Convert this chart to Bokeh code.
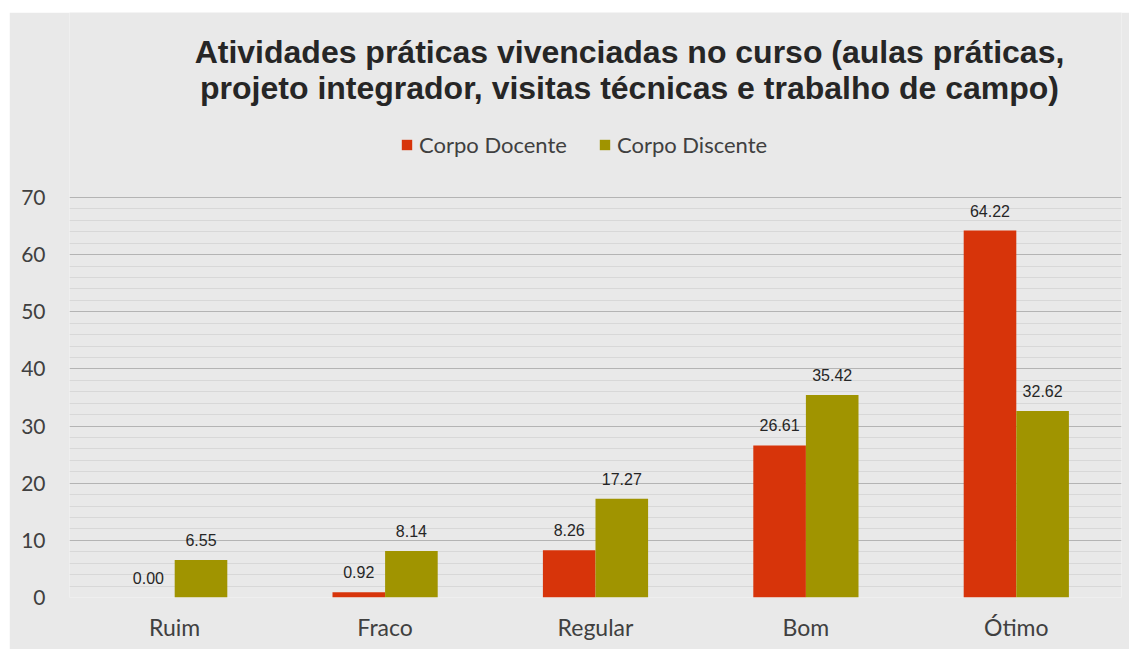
from bokeh.plotting import figure
from bokeh.models import (ColumnDataSource, FactorRange, Range1d, LabelSet, Label,
                          Legend, LegendItem, FixedTicker)
from bokeh.core.properties import value
from bokeh.transform import dodge
from bokeh.embed import file_html
from bokeh.resources import INLINE

categories = ["Ruim", "Fraco", "Regular", "Bom", "Ótimo"]
docente = [0.00, 0.92, 8.26, 26.61, 64.22]
discente = [6.55, 8.14, 17.27, 35.42, 32.62]
series_names = ["Corpo Docente", "Corpo Discente"]
y_ticks = [0, 10, 20, 30, 40, 50, 60, 70]
y_minor = [v for v in range(2, 70, 2) if v % 10 != 0]
title_lines = ["Atividades práticas vivenciadas no curso (aulas práticas,",
               "projeto integrador, visitas técnicas e trabalho de campo)"]

RED = "#d7340a"
OLIVE = "#a09400"
BG = "#e9e9e9"
TXT = "#404040"

src = ColumnDataSource(dict(
    cat=categories, doc=docente, dis=discente,
    doc_lbl=[f"{v:.2f}" for v in docente],
    dis_lbl=[f"{v:.2f}" for v in discente],
))

FRAME_H = 585
Y_TOP = 70 * FRAME_H / 400.0

p = figure(x_range=FactorRange(*categories), y_range=Range1d(0, Y_TOP),
           width=1120, height=637, margin=(12, 0, 0, 9), title=None,
           output_backend="svg", toolbar_location=None,
           min_border_left=60, min_border_right=8, min_border_top=0,
           min_border_bottom=52)
p.background_fill_color = BG
p.border_fill_color = BG
p.outline_line_color = None
p.x_range.range_padding = 0

r1 = p.vbar(x=dodge("cat", -0.125, range=p.x_range), top="doc", width=0.25,
            source=src, color=RED, line_color=None)
r2 = p.vbar(x=dodge("cat", 0.125, range=p.x_range), top="dis", width=0.25,
            source=src, color=OLIVE, line_color=None)

for col, off, ycol in (("doc_lbl", -0.125, "doc"), ("dis_lbl", 0.125, "dis")):
    p.add_layout(LabelSet(x=dodge("cat", off, range=p.x_range), y=ycol, text=col,
                          source=src, text_align="center", text_baseline="middle",
                          y_offset=20, text_font=value("Arial"),
                          text_font_size=value("16px"), text_color="#262626"))

# axes
p.yaxis.ticker = FixedTicker(ticks=y_ticks, minor_ticks=y_minor)
p.yaxis.axis_line_color = None
p.yaxis.major_tick_line_color = None
p.yaxis.minor_tick_line_color = None
p.yaxis.major_label_standoff = 18
p.yaxis.major_label_text_font = "Lato"
p.yaxis.major_label_text_font_size = "21px"
p.yaxis.major_label_text_color = TXT

p.xaxis.axis_line_color = None
p.xaxis.major_tick_line_color = None
p.xaxis.minor_tick_line_color = None
p.xaxis.major_label_standoff = 9
p.xaxis.major_label_text_font = "Lato"
p.xaxis.major_label_text_font_size = "23px"
p.xaxis.major_label_text_color = TXT

p.xgrid.grid_line_color = None
p.ygrid.grid_line_color = "#b4b4b4"
p.ygrid.grid_line_width = 1
p.ygrid.minor_grid_line_color = "#d8d8d8"
p.ygrid.minor_grid_line_width = 1

# title
for line, ty in zip(title_lines, (546, 510)):
    p.add_layout(Label(x=560, y=ty, x_units="screen", y_units="screen",
                       text=line, text_align="center", text_baseline="alphabetic",
                       text_font="Arial", text_font_style="bold",
                       text_font_size="32px", text_color="#262626"))

legend = Legend(items=[LegendItem(label=series_names[0], renderers=[r1]),
                       LegendItem(label=series_names[1], renderers=[r2])],
                orientation="horizontal", location=(331, 439),
                background_fill_alpha=0, border_line_color=None,
                margin=0, padding=0, spacing=31,
                glyph_width=13, glyph_height=13, label_height=13,
                label_standoff=6, label_text_font="Lato",
                label_text_font_size="22px", label_text_color=TXT)
p.add_layout(legend)

open("out.html", "w").write(file_html(p, INLINE))
